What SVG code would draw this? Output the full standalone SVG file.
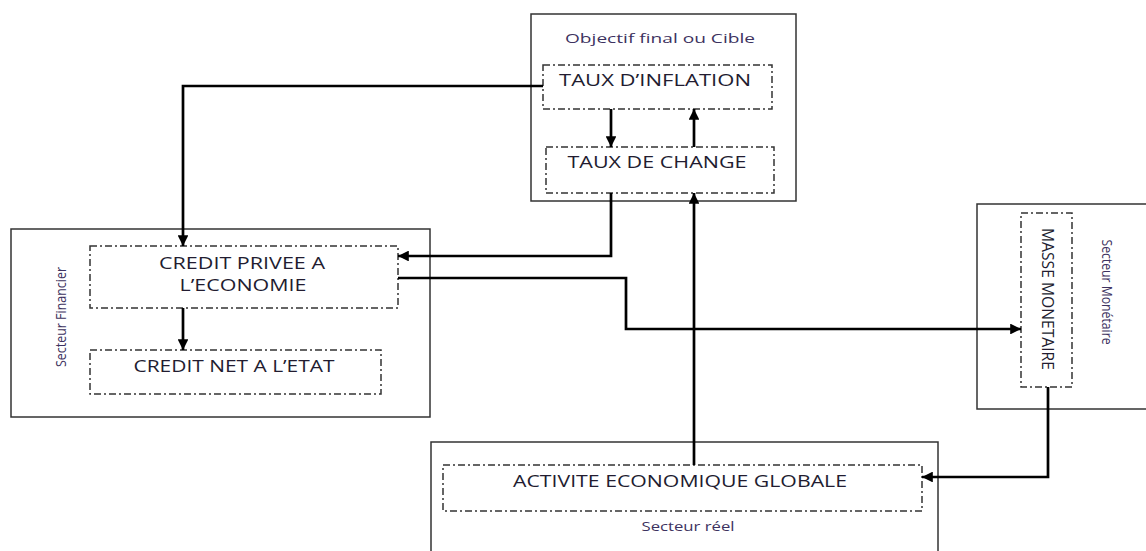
<svg xmlns="http://www.w3.org/2000/svg" width="1146" height="551" viewBox="0 0 1146 551">
<style>
.sector{fill:none;stroke:#333;stroke-width:1.5}
.node{fill:none;stroke:#333;stroke-width:1.5;stroke-dasharray:7 3 2 3}
.t{font-family:"Open Sans","Liberation Sans",sans-serif;fill:#221c30;font-size:15.5px;text-anchor:middle}
.lab{font-family:"Open Sans","Liberation Sans",sans-serif;fill:#3d3260;font-size:12.5px;text-anchor:middle}
.rot{font-size:14px}
.c{fill:none;stroke:#000;stroke-width:2.7;stroke-linejoin:miter}
</style>
<defs>
<marker id="ah" viewBox="0 0 10 10" refX="10" refY="5" markerWidth="4.2" markerHeight="4" markerUnits="strokeWidth" orient="auto">
<path d="M0,0 L10,5 L0,10 Z" fill="#000"/>
</marker>
</defs>
<rect width="1146" height="551" fill="#fff"/>

<g id="sector-cible">
<rect class="sector" x="531" y="14" width="265" height="187"/>
<text class="lab" x="660" y="43" textLength="190" lengthAdjust="spacingAndGlyphs">Objectif final ou Cible</text>
</g>
<g id="taux-inflation">
<rect class="node" x="543" y="65" width="229" height="44"/>
<text class="t" x="655" y="86" textLength="192" lengthAdjust="spacingAndGlyphs">TAUX D’INFLATION</text>
</g>
<g id="taux-change">
<rect class="node" x="546" y="147" width="228" height="46"/>
<text class="t" x="657" y="168" textLength="179" lengthAdjust="spacingAndGlyphs">TAUX DE CHANGE</text>
</g>

<g id="sector-financier">
<rect class="sector" x="11" y="229" width="419" height="188"/>
<text class="lab rot" transform="translate(66,317) rotate(-90)" x="0" y="0" textLength="100" lengthAdjust="spacingAndGlyphs">Secteur Financier</text>
</g>
<g id="credit-privee">
<rect class="node" x="90" y="246" width="308" height="62"/>
<text class="t" x="242" y="269" textLength="166" lengthAdjust="spacingAndGlyphs">CREDIT PRIVEE A</text>
<text class="t" x="243" y="291" textLength="127" lengthAdjust="spacingAndGlyphs">L’ECONOMIE</text>
</g>
<g id="credit-net">
<rect class="node" x="90" y="350" width="291" height="44"/>
<text class="t" x="234" y="372" textLength="201" lengthAdjust="spacingAndGlyphs">CREDIT NET A L’ETAT</text>
</g>

<g id="sector-monetaire">
<rect class="sector" x="977" y="204" width="180" height="205"/>
<text class="lab rot" transform="translate(1102,292) rotate(90)" x="0" y="0" textLength="105" lengthAdjust="spacingAndGlyphs">Secteur Monétaire</text>
</g>
<g id="masse-monetaire">
<rect class="node" x="1021" y="213" width="51" height="174"/>
<text class="t" transform="translate(1042,299) rotate(90)" x="0" y="0" textLength="142" lengthAdjust="spacingAndGlyphs">MASSE MONETAIRE</text>
</g>

<g id="sector-reel">
<rect class="sector" x="431" y="442" width="507" height="120"/>
<text class="lab" x="688" y="531" textLength="93" lengthAdjust="spacingAndGlyphs">Secteur réel</text>
</g>
<g id="activite">
<rect class="node" x="443" y="465" width="479" height="46"/>
<text class="t" x="680" y="487" textLength="334" lengthAdjust="spacingAndGlyphs">ACTIVITE ECONOMIQUE GLOBALE</text>
</g>

<g id="connectors">
<path class="c" d="M543,86 H183 V246" marker-end="url(#ah)"/>
<path class="c" d="M611,109 V147" marker-end="url(#ah)"/>
<path class="c" d="M694,147 V109" marker-end="url(#ah)"/>
<path class="c" d="M611,193 V256 H398" marker-end="url(#ah)"/>
<path class="c" d="M398,278 H626 V329 H1021" marker-end="url(#ah)"/>
<path class="c" d="M183,308 V350" marker-end="url(#ah)"/>
<path class="c" d="M694,465 V193" marker-end="url(#ah)"/>
<path class="c" d="M1048,387 V477 H922" marker-end="url(#ah)"/>
</g>
</svg>
